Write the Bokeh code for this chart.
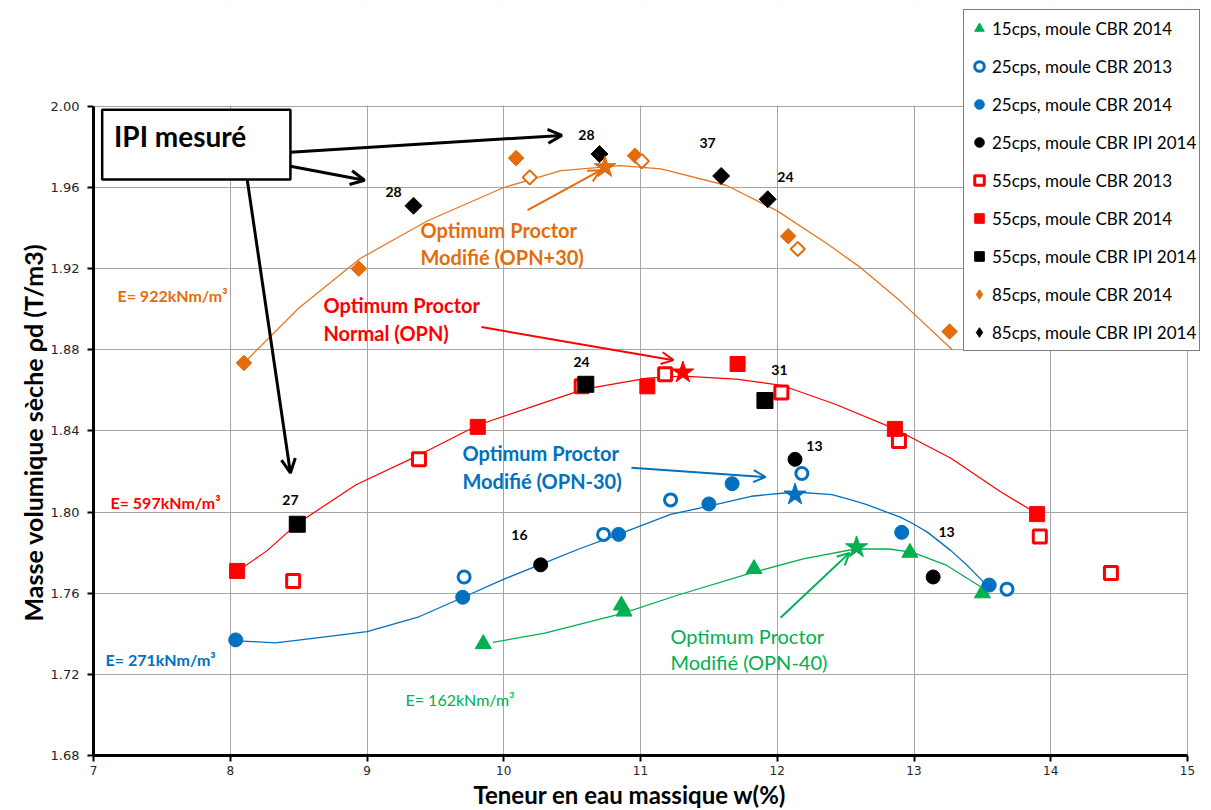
import math
from bokeh.plotting import figure
from bokeh.models import (Range1d, FixedTicker, PrintfTickFormatter, Label, Arrow,
                          OpenHead, BoxAnnotation, Legend, LegendItem, Title)
from bokeh.embed import file_html
from bokeh.resources import INLINE

# ---------------- data ----------------
x_ticks = [7, 8, 9, 10, 11, 12, 13, 14, 15]
y_ticks = [1.68, 1.72, 1.76, 1.80, 1.84, 1.88, 1.92, 1.96, 2.00]

# 15 coups, moule CBR 2014
w15_2014 = [9.85, 10.86, 10.88, 11.83, 12.97, 13.50]
r15_2014 = [1.735, 1.754, 1.751, 1.772, 1.780, 1.760]

# 25 coups
w25_2013 = [9.71, 10.73, 11.22, 12.18, 13.68]
r25_2013 = [1.768, 1.789, 1.806, 1.819, 1.762]
w25_2014 = [8.04, 9.70, 10.84, 11.50, 11.67, 12.91, 13.55]
r25_2014 = [1.737, 1.758, 1.789, 1.804, 1.814, 1.790, 1.764]
w25_ipi = [10.27, 12.13, 13.14]
r25_ipi = [1.774, 1.826, 1.768]
ipi25_lab = ["16", "13", "13"]

# 55 coups
w55_2013 = [8.46, 9.38, 10.57, 11.18, 12.03, 12.89, 13.92, 14.44]
r55_2013 = [1.766, 1.826, 1.862, 1.868, 1.859, 1.835, 1.788, 1.770]
w55_2014 = [8.05, 9.81, 11.05, 11.71, 12.86, 13.90]
r55_2014 = [1.771, 1.842, 1.862, 1.873, 1.841, 1.799]
w55_ipi = [8.49, 10.60, 11.91]
r55_ipi = [1.794, 1.863, 1.855]
ipi55_lab = ["27", "24", "31"]

# 85 coups
w85_2014 = [8.10, 8.94, 10.09, 10.96, 12.08, 13.26]
r85_2014 = [1.8735, 1.920, 1.9745, 1.9757, 1.936, 1.889]
w85_open = [10.19, 11.01, 12.15]
r85_open = [1.965, 1.973, 1.9297]
w85_ipi = [9.34, 10.70, 11.59, 11.93]
r85_ipi = [1.951, 1.9765, 1.9657, 1.9542]
ipi85_lab = ["28", "28", "37", "24"]

# optimum points (stars)
opt_w = [10.74, 11.31, 12.13, 12.58]
opt_r = [1.970, 1.8688, 1.8086, 1.7826]
opt_col = ["#E46C0A", "#FF0000", "#0070C0", "#00B050"]

# trend curves
c85_w = [8.10, 8.50, 8.95, 9.44, 10.00, 10.42, 10.85, 11.15, 11.63, 12.00, 12.37, 12.61, 12.90, 13.28]
c85_r = [1.8735, 1.9005, 1.925, 1.9435, 1.960, 1.9683, 1.9708, 1.9692, 1.961, 1.9485, 1.932, 1.9205, 1.904, 1.880]
c55_w = [8.05, 8.27, 8.49, 8.92, 9.38, 9.81, 10.23, 10.59, 11.05, 11.31, 11.70, 12.03, 12.42, 12.86, 13.27, 13.63, 13.90]
c55_r = [1.7707, 1.781, 1.7943, 1.8135, 1.8281, 1.8428, 1.8525, 1.8606, 1.866, 1.867, 1.8655, 1.8625, 1.8533, 1.841, 1.8265, 1.8102, 1.7992]
c25_w = [8.04, 8.33, 8.62, 9.00, 9.38, 9.70, 10.01, 10.28, 10.55, 10.81, 11.22, 11.50, 11.81, 12.13, 12.40, 12.54, 12.65, 12.78, 12.90, 13.00, 13.10, 13.27, 13.40, 13.53]
c25_r = [1.7366, 1.7355, 1.7379, 1.7411, 1.7484, 1.7579, 1.7672, 1.7745, 1.7818, 1.7883, 1.7989, 1.8029, 1.8078, 1.8099, 1.8086, 1.806, 1.8038, 1.8005, 1.7975, 1.794, 1.790, 1.781, 1.773, 1.764]
c15_w = [9.92, 10.30, 10.87, 11.27, 11.83, 12.19, 12.57, 12.82, 12.99, 13.24, 13.49]
c15_r = [1.7358, 1.7403, 1.7501, 1.759, 1.7704, 1.7769, 1.7818, 1.7818, 1.7801, 1.7737, 1.7631]

BLUE, RED, GREEN, ORANGE = "#0070C0", "#FF0000", "#00B050", "#E46C0A"
FONT = "Lato"

p = figure(width=1211, height=808, x_range=Range1d(7, 15.1755), y_range=Range1d(1.68, 2.0522),
           output_backend="svg", toolbar_location=None,
           min_border_left=93, min_border_right=0, min_border_top=0, min_border_bottom=52)
p.outline_line_color = None
p.background_fill_color = "white"

for ax in (p.xaxis[0], p.yaxis[0]):
    ax.axis_line_width = 3
    ax.axis_line_color = "black"
    ax.major_tick_out = 6
    ax.major_tick_in = 0
    ax.major_tick_line_width = 2
    ax.minor_tick_out = 0
    ax.minor_tick_in = 0
    ax.major_label_text_font = "DejaVu Sans"
    ax.major_label_text_color = "#262626"
p.xaxis.bounds = (7, 15)
p.yaxis.bounds = (1.68, 2.00)
p.xaxis.ticker = FixedTicker(ticks=x_ticks)
p.yaxis.ticker = FixedTicker(ticks=y_ticks)
p.yaxis.formatter = PrintfTickFormatter(format="%.2f")
p.yaxis.major_label_text_font_size = "13px"
p.xaxis.major_label_text_font_size = "12px"
p.yaxis.major_label_standoff = 8
p.xaxis.major_label_standoff = 4
p.xgrid.grid_line_color = "#a6a6a6"
p.ygrid.grid_line_color = "#a6a6a6"

# white covers so the grid stops at 2.00 and at 15
p.add_layout(BoxAnnotation(bottom=2.0006, fill_color="white", fill_alpha=1, line_alpha=0))
p.add_layout(BoxAnnotation(left=15.004, fill_color="white", fill_alpha=1, line_alpha=0))

# axis titles
p.add_layout(Title(text="Masse volumique sèche ρd  (T/m3)", align="left", offset=134, standoff=0,
                   text_font=FONT, text_font_size="25px", text_font_style="bold",
                   text_color="black"), "left")
p.add_layout(Title(text="Teneur en eau massique  w(%)", align="left", offset=380, standoff=0,
                   text_font=FONT, text_font_size="24px", text_font_style="bold",
                   text_color="black"), "below")

# curves
p.line(c85_w, c85_r, line_color="#E87722", line_width=1.3)
p.line(c55_w, c55_r, line_color=RED, line_width=1.2)
p.line(c25_w, c25_r, line_color=BLUE, line_width=1.3)
p.line(c15_w, c15_r, line_color=GREEN, line_width=1.3)

# markers
r_tri = p.scatter(w15_2014, r15_2014, marker="triangle", size=16, fill_color=GREEN, line_color=GREEN)
r_c13 = p.scatter(w25_2013, r25_2013, marker="circle", size=12, fill_color="white", line_color=BLUE, line_width=3)
r_c14 = p.scatter(w25_2014, r25_2014, marker="circle", size=14, fill_color=BLUE, line_color=BLUE)
r_s13 = p.scatter(w55_2013, r55_2013, marker="square", size=13, fill_color="white", line_color=RED, line_width=3)
r_s14 = p.scatter(w55_2014, r55_2014, marker="square", size=15, fill_color=RED, line_color=RED)
# diamond glyphs (used by the legend), covered by the square-shaped diamonds drawn on top
r_d14 = p.scatter(w85_2014, r85_2014, marker="diamond", size=10, fill_color=ORANGE, line_color=ORANGE)
r_dipi = p.scatter(w85_ipi, r85_ipi, marker="diamond", size=10, fill_color="black", line_color="black")
p.scatter(w85_2014, r85_2014, marker="square", angle=math.pi / 4, size=11, fill_color=ORANGE, line_color=ORANGE)
p.scatter(w85_open, r85_open, marker="square", angle=math.pi / 4, size=10, fill_color="white", line_color=ORANGE, line_width=2)
r_cipi = p.scatter(w25_ipi, r25_ipi, marker="circle", size=14, fill_color="black", line_color="black")
r_sipi = p.scatter(w55_ipi, r55_ipi, marker="square", size=16, fill_color="black", line_color="black")
p.scatter(w85_ipi, r85_ipi, marker="square", angle=math.pi / 4, size=12, fill_color="black", line_color="black")
p.scatter(opt_w, opt_r, marker="star", size=23, fill_color=opt_col, line_color=opt_col)

# IPI value labels
lab_pos = [
    (9.194, 1.9577), (10.605, 1.9857), (11.49, 1.9818), (12.06, 1.965),
    (8.44, 1.806), (10.569, 1.874), (12.016, 1.870),
    (10.115, 1.7888), (12.272, 1.8326), (13.238, 1.7903),
]
lab_txt = ipi85_lab + ipi55_lab + ipi25_lab
for (lx, ly), t in zip(lab_pos, lab_txt):
    p.add_layout(Label(x=lx, y=ly, text=t, text_font=FONT, text_font_size="14px",
                       text_font_style="bold", text_color="black",
                       text_align="center", text_baseline="middle"))

# IPI mesuré box
p.add_layout(BoxAnnotation(left=7.0635, right=8.44, top=1.9984, bottom=1.9639,
                           fill_color="white", fill_alpha=1, line_color="black",
                           line_width=2.5, line_alpha=1))
p.add_layout(Label(x=7.15, y=1.9855, text="IPI mesuré", text_font=FONT, text_font_size="28px",
                   text_font_style="bold", text_color="black", text_baseline="middle"))

def arrow(x0, y0, x1, y1, color, lw, hs):
    p.add_layout(Arrow(end=OpenHead(size=hs, line_width=lw, line_color=color),
                       x_start=x0, y_start=y0, x_end=x1, y_end=y1,
                       line_color=color, line_width=lw))

arrow(8.44, 1.9774, 10.425, 1.9857, "black", 3, 14)
arrow(8.44, 1.9705, 8.982, 1.9636, "black", 3, 14)
arrow(8.124, 1.9639, 8.44, 1.8193, "black", 3, 14)
arrow(10.174, 1.9488, 10.707, 1.9685, ORANGE, 2, 12)
arrow(9.837, 1.8912, 11.241, 1.8749, RED, 2, 12)
arrow(10.934, 1.8218, 11.914, 1.8173, BLUE, 2, 12)
arrow(12.024, 1.7479, 12.528, 1.7799, GREEN, 2, 12)

def txt(x, y, t, color, size="20px", style="bold", align="left"):
    p.add_layout(Label(x=x, y=y, text=t, text_font=FONT, text_font_size=size,
                       text_font_style=style, text_color=color, text_align=align,
                       text_baseline="middle"))

txt(9.391, 1.939, "Optimum Proctor", ORANGE)
txt(9.391, 1.9257, "Modifié  (OPN+30)", ORANGE)
txt(8.682, 1.902, "Optimum Proctor", RED)
txt(8.682, 1.8882, "Normal (OPN)", RED)
txt(9.698, 1.8291, "Optimum Proctor", BLUE)
txt(9.698, 1.8154, "Modifié  (OPN-30)", BLUE)
txt(11.219, 1.739, "Optimum Proctor", GREEN, style="normal")
txt(11.219, 1.7262, "Modifié  (OPN-40)", GREEN, style="normal")

txt(7.1755, 1.907, "E= 922kNm/m³", ORANGE, size="16px")
txt(7.124, 1.8045, "E= 597kNm/m³", RED, size="16px")
txt(7.088, 1.7272, "E= 271kNm/m³", BLUE, size="16px")
txt(9.2815, 1.7075, "E= 162kNm/m³", GREEN, size="16px", style="normal")

legend = Legend(items=[
    LegendItem(label="15cps, moule CBR 2014", renderers=[r_tri]),
    LegendItem(label="25cps, moule CBR 2013", renderers=[r_c13]),
    LegendItem(label="25cps, moule CBR 2014", renderers=[r_c14]),
    LegendItem(label="25cps, moule CBR IPI 2014", renderers=[r_cipi]),
    LegendItem(label="55cps, moule CBR 2013", renderers=[r_s13]),
    LegendItem(label="55cps, moule CBR 2014", renderers=[r_s14]),
    LegendItem(label="55cps, moule CBR IPI 2014", renderers=[r_sipi]),
    LegendItem(label="85cps, moule CBR 2014", renderers=[r_d14]),
    LegendItem(label="85cps, moule CBR IPI 2014", renderers=[r_dipi]),
], location=(870, 404))
legend.label_text_font = FONT
legend.label_text_font_size = "17px"
legend.label_text_color = "black"
legend.border_line_color = "black"
legend.border_line_width = 1.5
legend.background_fill_color = "white"
legend.background_fill_alpha = 1
legend.padding = 3
legend.spacing = 8
legend.glyph_width = 24
legend.glyph_height = 30
legend.label_height = 30
legend.label_standoff = 1
legend.margin = 0
p.add_layout(legend)

open("out.html", "w").write(file_html(p, INLINE))
